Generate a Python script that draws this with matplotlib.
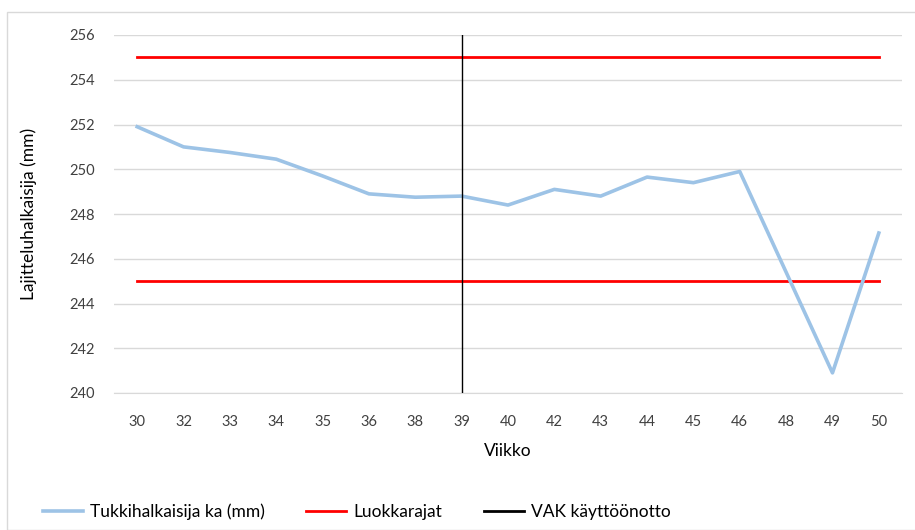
import matplotlib.pyplot as plt
from matplotlib.patches import Rectangle

plt.rcParams['font.family'] = ['Lato', 'DejaVu Sans']

# data
viikot = ['30', '32', '33', '34', '35', '36', '38', '39', '40', '42', '43',
          '44', '45', '46', '48', '49', '50']
halkaisija = [251.9, 251.0, 250.75, 250.45, 249.7, 248.9, 248.75, 248.8, 248.4,
              249.1, 248.8, 249.65, 249.4, 249.9, 245.4, 240.9, 247.15]
raja_ala = 245
raja_yla = 255
vak_viikko = '39'

x = list(range(len(viikot)))

fig = plt.figure(figsize=(9.15, 5.3), dpi=100)
fig.patches.append(Rectangle((7 / 915, 0), 1.2, (530 - 12) / 530, transform=fig.transFigure,
                             fill=False, edgecolor='#d9d9d9', linewidth=1))
ax = fig.add_axes([114 / 915, (530 - 393) / 530, (902 - 114) / 915, (393 - 35) / 530])

ax.plot(x, halkaisija, color='#9dc3e6', linewidth=2.6, label='Tukkihalkaisija ka (mm)',
        zorder=3, solid_joinstyle='round')
ax.plot([x[0], x[-1]], [raja_yla, raja_yla], color='#ff0000', linewidth=2, zorder=2,
        label='Luokkarajat')
ax.plot([x[0], x[-1]], [raja_ala, raja_ala], color='#ff0000', linewidth=2, zorder=2)
vx = viikot.index(vak_viikko)
ax.plot([vx, vx], [240, 256], color='black', linewidth=1, zorder=4, label='VAK käyttöönotto')

ax.set_xlim(-0.5, len(viikot) - 0.5)
ax.set_ylim(240, 256)
ax.set_yticks(range(240, 257, 2))
ax.set_xticks(x)
ax.set_xticklabels(viikot)
ax.grid(axis='y', color='#d9d9d9', linewidth=1)
ax.set_axisbelow(True)
for s in ['top', 'right', 'left']:
    ax.spines[s].set_visible(False)
ax.spines['bottom'].set_color('#d9d9d9')
ax.tick_params(length=0, labelsize=10.5, colors='#404040')
ax.tick_params(axis='x', pad=16)
ax.tick_params(axis='y', pad=14)

ax.set_xlabel('Viikko', fontsize=12.5, color='#000000', labelpad=10)
ax.set_ylabel('Lajitteluhalkaisija (mm)', fontsize=12.5, color='#000000', labelpad=23)

leg = fig.legend(loc='lower left', bbox_to_anchor=(0.03, -0.01), ncol=3, frameon=False,
                 fontsize=12.5, handlelength=2.3, columnspacing=2.4, handletextpad=0.4)
leg.get_lines()[2].set_linewidth(2)

plt.savefig('out.png', dpi=100)
